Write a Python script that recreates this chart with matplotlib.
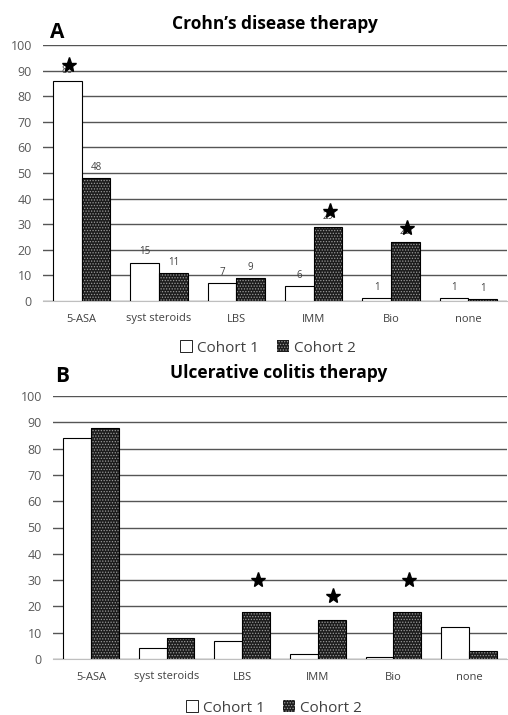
import numpy as np
import matplotlib.pyplot as plt
from matplotlib.patches import Patch

categories = ['5-ASA', 'syst steroids', 'LBS', 'IMM', 'Bio', 'none']

# Crohn's disease (panel A)
cd_cohort1 = [86, 15, 7, 6, 1, 1]
cd_cohort2 = [48, 11, 9, 29, 23, 0.6]
cd_labels1 = ['86', '15', '7', '6', '1', '1']
cd_labels2 = ['48', '11', '9', '29', '23', '1']
# star positions: (category index, cohort, y)
cd_stars = [(0, 1, 92), (3, 2, 35), (4, 2, 28.5)]

# Ulcerative colitis (panel B)
uc_cohort1 = [84, 4, 7, 2, 0.6, 12]
uc_cohort2 = [88, 8, 18, 15, 18, 3]
uc_stars = [(2, 2, 30), (3, 2, 24), (4, 2, 30)]

GRID = '#555555'
TICK = '#595959'
C2_FACE = '#1c1c1c'
C2_HATCH = '#9a9a9a'
W = 0.37

plt.rcParams['font.family'] = ['Open Sans', 'DejaVu Sans']
plt.rcParams['hatch.linewidth'] = 0.6

fig = plt.figure(figsize=(5.08, 7.15), dpi=100)


def draw_panel(ax, v1, v2, stars, labels1=None, labels2=None):
    x = np.arange(len(categories))
    ax.set_axisbelow(True)
    ax.yaxis.grid(True, color=GRID, linewidth=1.0)
    ax.bar(x - W / 2, v1, W, color='white', edgecolor='black', linewidth=0.8, zorder=3)
    ax.bar(x + W / 2, v2, W, color=C2_FACE, edgecolor=C2_HATCH, hatch='......',
           linewidth=0, zorder=3)
    ax.bar(x + W / 2, v2, W, color='none', edgecolor='black', linewidth=0.8, zorder=4)
    ax.set_xlim(-0.5, len(categories) - 0.5)
    ax.set_ylim(0, 100)
    ax.set_yticks(range(0, 101, 10))
    ax.set_xticks(x)
    ax.set_xticklabels(categories)
    ax.tick_params(axis='y', length=0, labelsize=9, colors=TICK, pad=8)
    ax.tick_params(axis='x', length=0, labelsize=8, colors='#404040', pad=9)
    for s in ['top', 'right', 'left']:
        ax.spines[s].set_visible(False)
    ax.spines['bottom'].set_color('#bfbfbf')
    if labels1 is not None:
        for xi, v, t in zip(x, v1, labels1):
            ax.text(xi - W / 2, v + 2.0, t, ha='center', va='bottom', fontsize=7, color='#404040', zorder=5)
        for xi, v, t in zip(x, v2, labels2):
            ax.text(xi + W / 2, v + 2.0, t, ha='center', va='bottom', fontsize=7, color='#404040', zorder=5)
    for ci, coh, y in stars:
        xs = ci - W / 2 if coh == 1 else ci + W / 2
        ax.plot(xs + 0.02, y, marker='*', color='black', markersize=11, zorder=6, clip_on=False)


ax1 = fig.add_axes([43 / 508, 1 - 301 / 715, 464 / 508, 256 / 715])
draw_panel(ax1, cd_cohort1, cd_cohort2, cd_stars, cd_labels1, cd_labels2)

ax2 = fig.add_axes([53 / 508, 1 - 659 / 715, 454 / 508, 263 / 715])
draw_panel(ax2, uc_cohort1, uc_cohort2, uc_stars)

fig.text(275 / 508, 1 - 24 / 715, 'Crohn\u2019s disease therapy', ha='center', va='center',
         fontsize=12.5, fontweight='bold')
fig.text(279 / 508, 1 - 373 / 715, 'Ulcerative colitis therapy', ha='center', va='center',
         fontsize=12.5, fontweight='bold')
fig.text(50 / 508, 1 - 33 / 715, 'A', ha='left', va='center', fontsize=15, fontweight='bold')
fig.text(55 / 508, 1 - 377 / 715, 'B', ha='left', va='center', fontsize=15, fontweight='bold')

handles = [Patch(facecolor='white', edgecolor='black', linewidth=0.6),
           Patch(facecolor=C2_FACE, edgecolor=C2_HATCH, hatch='......', linewidth=0)]
for yc, xc in [(348, 268), (708, 274)]:
    fig.legend(handles, ['Cohort 1', 'Cohort 2'], loc='center', ncol=2,
               bbox_to_anchor=(xc / 508, 1 - yc / 715), frameon=False, fontsize=11,
               handlelength=0.8, handleheight=0.8, handletextpad=0.3, columnspacing=1.2,
               labelcolor='#404040')

fig.savefig('out.png', dpi=100)
